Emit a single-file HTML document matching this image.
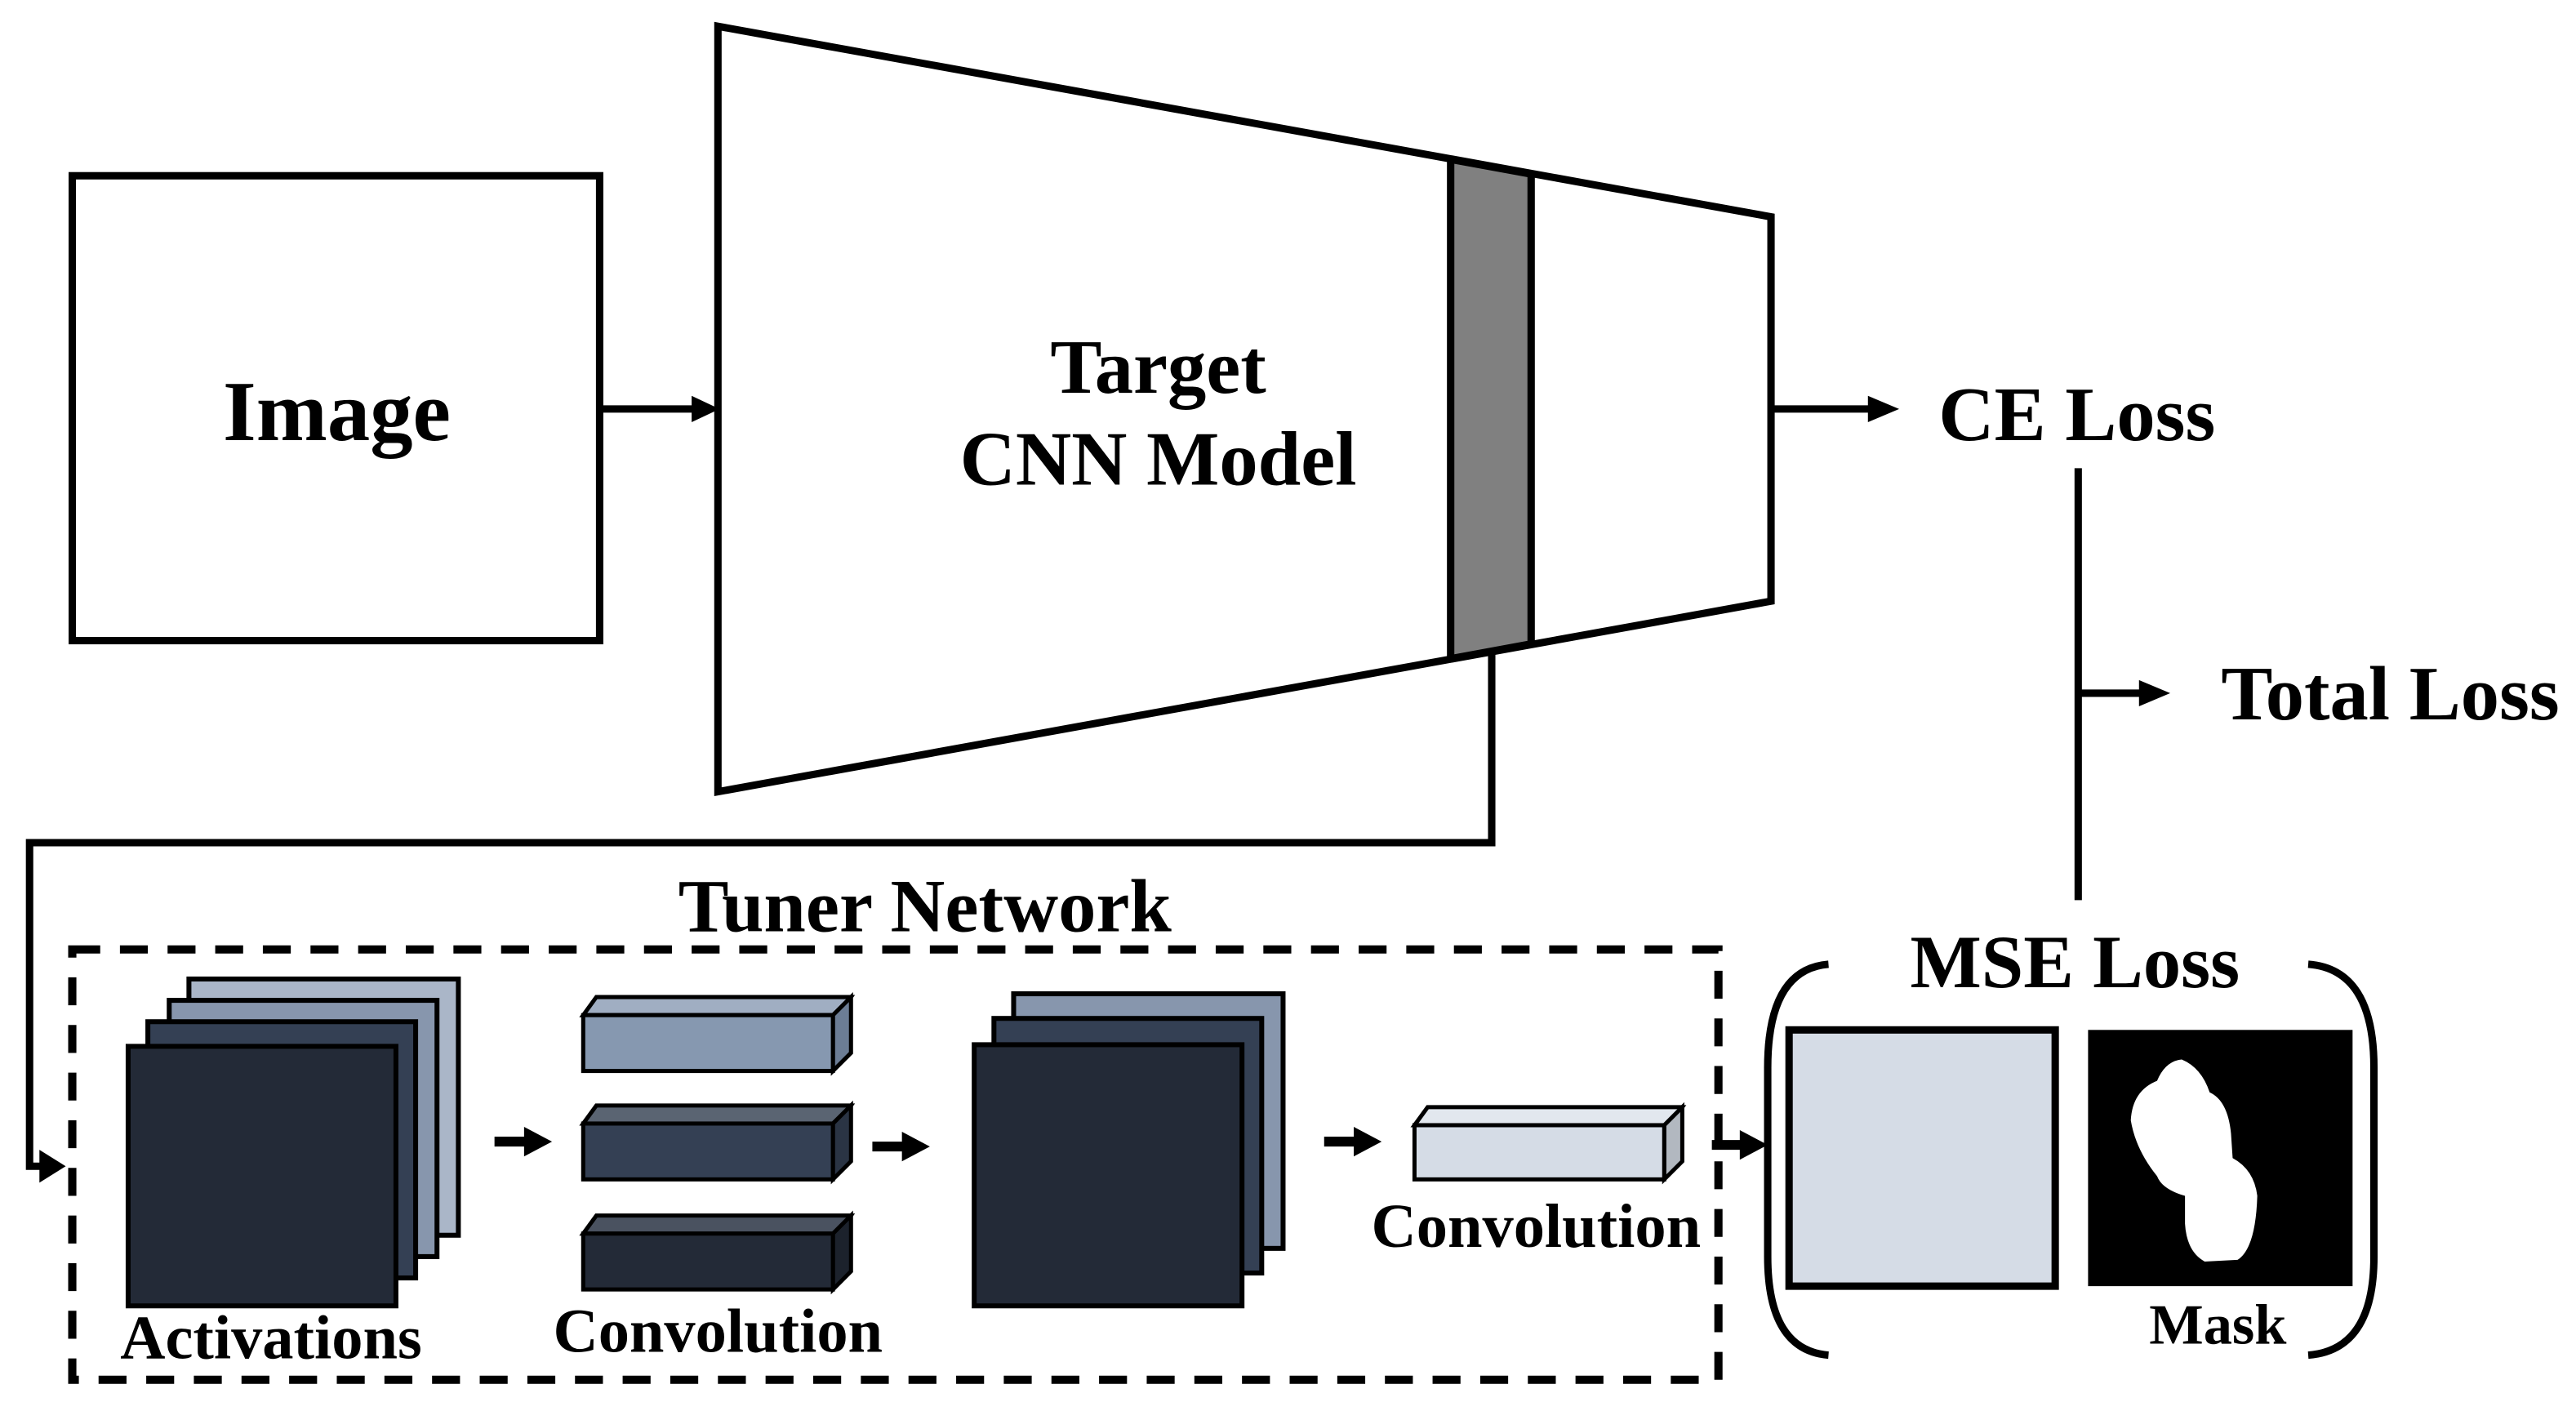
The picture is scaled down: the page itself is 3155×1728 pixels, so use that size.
<!DOCTYPE html>
<html><head><style>html,body{margin:0;padding:0;background:#fff}svg{display:block}</style></head><body>
<svg width="3155" height="1728" viewBox="0 0 1568 859" preserveAspectRatio="none" xmlns="http://www.w3.org/2000/svg">
<g font-family="Liberation Serif, serif" font-weight="bold" fill="#000">
<rect x="44" y="107" width="321" height="283" fill="#fff" stroke="#000" stroke-width="4.5"/>
<text x="205" y="268" font-size="52" text-anchor="middle">Image</text>
<polygon points="437,16 1078,132 1078,366 437,482" fill="#fff" stroke="#000" stroke-width="4.5"/>
<polygon points="883,97 932,106 932,392 883,401" fill="#808080" stroke="#000" stroke-width="4.5"/>
<text x="705" y="239" font-size="47" text-anchor="middle">Target</text>
<text x="705" y="295" font-size="47" text-anchor="middle">CNN Model</text>
<line x1="365" y1="249" x2="425" y2="249" stroke="#000" stroke-width="4.5"/>
<polygon points="421,241 438,249 421,257"/>
<line x1="1078" y1="249" x2="1140" y2="249" stroke="#000" stroke-width="4.5"/>
<polygon points="1137,241 1156,249 1137,257"/>
<text x="1180" y="268" font-size="47">CE Loss</text>
<line x1="1265" y1="285" x2="1265" y2="548" stroke="#000" stroke-width="4.5"/>
<line x1="1265" y1="422" x2="1305" y2="422" stroke="#000" stroke-width="4.5"/>
<polygon points="1302,414 1321,422 1302,430"/>
<text x="1352" y="438" font-size="47">Total Loss</text>
<polyline points="908,398 908,513 18,513 18,710 26,710" fill="none" stroke="#000" stroke-width="4.5"/>
<polygon points="24,700 40,710 24,720"/>
<text x="563" y="567" font-size="46" text-anchor="middle">Tuner Network</text>
<rect x="44" y="578" width="1002" height="262" fill="none" stroke="#000" stroke-width="5" stroke-dasharray="17 12"/>
<rect x="115" y="596" width="164" height="156" fill="#aab6c8" stroke="#000" stroke-width="3"/>
<rect x="103" y="609" width="163" height="156" fill="#8796ad" stroke="#000" stroke-width="3"/>
<rect x="90" y="622" width="163" height="156" fill="#344054" stroke="#000" stroke-width="3"/>
<rect x="78" y="637" width="163" height="158" fill="#232a37" stroke="#000" stroke-width="3"/>
<text x="165" y="827" font-size="38" text-anchor="middle">Activations</text>
<g stroke="#000" stroke-width="2.5">
<polygon points="355,618 363,607 518,607 510,618" fill="#a0aec2"/><polygon points="507,618 518,607 518,641 507,652" fill="#6c7d95"/><rect x="355" y="618" width="152" height="34" fill="#8698b0"/>
<polygon points="355,684 363,673 518,673 510,684" fill="#5a6472"/><polygon points="507,684 518,673 518,707 507,718" fill="#2a3444"/><rect x="355" y="684" width="152" height="34" fill="#344054"/>
<polygon points="355,751 363,740 518,740 510,751" fill="#4a5260"/><polygon points="507,751 518,740 518,774 507,785" fill="#1c222c"/><rect x="355" y="751" width="152" height="34" fill="#232a37"/>
<polygon points="861,685 869,674 1024,674 1016,685" fill="#e2e7ee"/><polygon points="1013,685 1024,674 1024,707 1013,718" fill="#b2b8c0"/><rect x="861" y="685" width="152" height="33" fill="#d5dce6"/>
</g>
<text x="437" y="823" font-size="38" text-anchor="middle">Convolution</text>
<text x="935" y="759" font-size="38" text-anchor="middle">Convolution</text>
<rect x="617" y="605" width="164" height="155" fill="#8796ad" stroke="#000" stroke-width="3"/>
<rect x="605" y="620" width="163" height="155" fill="#344054" stroke="#000" stroke-width="3"/>
<rect x="593" y="636" width="163" height="159" fill="#232a37" stroke="#000" stroke-width="3"/>
<g stroke="#000" stroke-width="6">
<line x1="301" y1="695" x2="322" y2="695"/>
<line x1="531" y1="698" x2="552" y2="698"/>
<line x1="806" y1="695" x2="827" y2="695"/>
<line x1="1042" y1="697" x2="1062" y2="697"/>
</g>
<polygon points="319,686 336,695 319,704"/>
<polygon points="549,689 566,698 549,707"/>
<polygon points="824,686 841,695 824,704"/>
<polygon points="1059,688 1076,697 1059,706"/>
<text x="1263" y="601" font-size="46" text-anchor="middle">MSE Loss</text>
<path d="M1113,587 Q1076,590 1076,650 L1076,765 Q1076,822 1113,825" fill="none" stroke="#000" stroke-width="4.5"/>
<path d="M1405,587 Q1445,590 1445,650 L1445,765 Q1445,822 1405,825" fill="none" stroke="#000" stroke-width="4.5"/>
<rect x="1089" y="627" width="162" height="156" fill="#d5dce6" stroke="#000" stroke-width="4.5"/>
<rect x="1271" y="627" width="161" height="156" fill="#000"/>
<path d="M1328,645 Q1340,650 1345,665 Q1356,670 1358,690 L1359,705 Q1372,712 1374,728 Q1373,760 1362,767 L1342,768 Q1331,762 1330,745 L1330,728 Q1316,724 1313,716 Q1300,700 1297,682 Q1298,664 1313,658 Q1318,646 1328,645 Z" fill="#fff"/>
<text x="1350" y="818" font-size="35" text-anchor="middle">Mask</text>
</g>
</svg>
</body></html>
